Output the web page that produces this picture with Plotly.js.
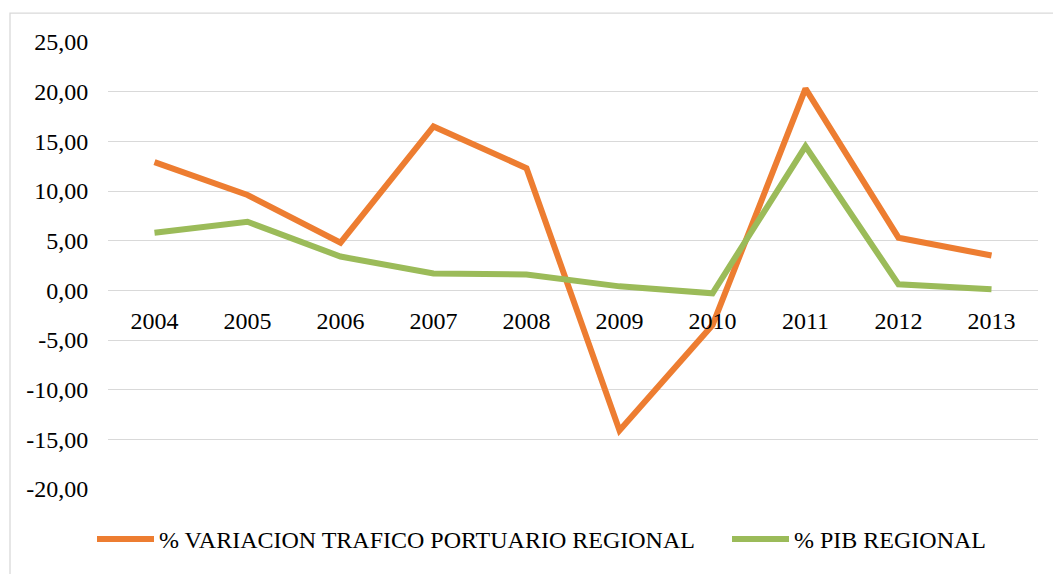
<!DOCTYPE html>
<html>
<head>
<meta charset="utf-8">
<script src="https://cdn.plot.ly/plotly-3.0.1.min.js"></script>
<style>
html,body{margin:0;padding:0;background:#fff;}
#chart{width:1053px;height:574px;}
#chart text{font-family:'Liberation Serif','Times New Roman',serif !important;}
</style>
</head>
<body>
<div id="chart"></div>
<script>
var years = ['2004','2005','2006','2007','2008','2009','2010','2011','2012','2013'];
var traficoPortuario = [12.9, 9.6, 4.8, 16.5, 12.3, -14.1, -3.5, 20.3, 5.3, 3.5];
var pibRegional = [5.8, 6.9, 3.4, 1.7, 1.6, 0.4, -0.3, 14.5, 0.6, 0.1];
var yTicks = [-20, -15, -10, -5, 0, 5, 10, 15, 20, 25];
var seriesNames = ['% VARIACION TRAFICO PORTUARIO REGIONAL', '% PIB REGIONAL'];

var yTickText = yTicks.map(function (v) { return v.toFixed(2).replace('.', ','); });

var font = 'Liberation Serif';
var fs = 24;
var yMin = -20, yMax = 25;

var traces = [
  {x: years, y: traficoPortuario, type: 'scatter', mode: 'lines', name: seriesNames[0],
   line: {color: '#ED7D31', width: 6}, legend: 'legend'},
  {x: years, y: pibRegional, type: 'scatter', mode: 'lines', name: seriesNames[1],
   line: {color: '#9BBB59', width: 6}, legend: 'legend2'}
];

var legendCommon = {orientation: 'h', xanchor: 'left', y: -0.113, yanchor: 'middle',
  font: {family: font, size: fs, color: '#000'}, itemwidth: 57, bgcolor: 'rgba(0,0,0,0)'};

var layout = {
  width: 1053, height: 574,
  margin: {l: 108, r: 15, t: 42, b: 82},
  paper_bgcolor: '#ffffff', plot_bgcolor: '#ffffff',
  font: {family: font, size: fs, color: '#000'},
  showlegend: true,
  legend: Object.assign({}, legendCommon, {x: (92 - 108) / 930}),
  legend2: Object.assign({}, legendCommon, {x: (727 - 108) / 930}),
  xaxis: {type: 'category', range: [-0.5, 9.5], anchor: 'free', position: (0 - yMin) / (yMax - yMin),
          showgrid: false, showline: false, zeroline: false,
          ticks: 'outside', ticklen: 9, tickcolor: 'rgba(0,0,0,0)',
          tickfont: {family: font, size: fs, color: '#000'}, fixedrange: true},
  yaxis: {range: [yMin, yMax], tickvals: yTicks, ticktext: yTickText,
          showgrid: true, gridcolor: '#d9d9d9', gridwidth: 1.3,
          zeroline: true, zerolinecolor: '#d9d9d9', zerolinewidth: 1.3,
          showline: false, ticks: 'outside', ticklen: 14, tickcolor: 'rgba(0,0,0,0)',
          tickfont: {family: font, size: fs, color: '#000'}, fixedrange: true},
  shapes: [{type: 'rect', xref: 'paper', yref: 'paper',
            x0: (10 - 108) / 930, x1: (1060 - 108) / 930,
            y0: (492 - 590) / 450, y1: (492 - 13) / 450,
            line: {color: '#d9d9d9', width: 1.3}, fillcolor: 'rgba(0,0,0,0)', layer: 'below'}]
};

Plotly.newPlot('chart', traces, layout, {displayModeBar: false});
</script>
</body>
</html>
